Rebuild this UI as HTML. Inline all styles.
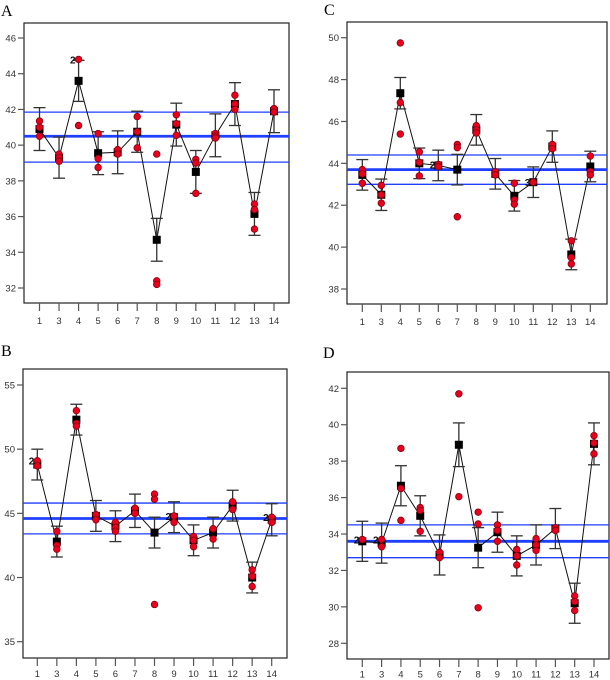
<!DOCTYPE html>
<html><head><meta charset="utf-8"><style>
html,body{margin:0;padding:0;background:#fff;}
svg{display:block;font-family:"Liberation Sans",sans-serif;}
</style></head><body>
<svg id="fig" width="610" height="680" viewBox="0 0 610 680"></svg>
<script>
const categories = ["1","3","4","5","6","7","8","9","10","11","12","13","14"];

const meansA = [40.9,39.3,43.6,39.55,39.6,40.75,34.7,41.15,38.5,40.55,42.3,36.15,41.9];
const errA = [1.2,1.15,1.15,1.2,1.2,1.15,1.2,1.2,1.2,1.2,1.2,1.2,1.2];
const pointsA = [[41.35,41.0,40.5],[39.5,39.3,39.1],[44.8,41.1],[40.65,39.25,38.75],[39.75,39.5],[41.6,40.75,39.85],[39.5,32.4,32.2],[41.7,41.2,40.55],[39.2,39.0,37.3],[40.65,40.5,40.4],[42.8,42.3,42.0],[36.7,36.4,35.3],[42.05,41.85]];
const refA = [41.85,40.5,39.05];
const ticksA = [32,34,36,38,40,42,44,46];
const countsA = [null,null,"2",null,null,null,null,null,null,null,null,null,null];

const meansC = [43.45,42.5,47.35,44.0,43.9,43.7,45.6,43.5,42.45,43.1,44.8,39.65,43.85];
const errC = [0.73,0.75,0.75,0.73,0.73,0.73,0.73,0.73,0.73,0.73,0.75,0.73,0.73];
const pointsC = [[43.7,43.5,43.05],[42.95,42.5,42.1],[49.75,46.9,45.4],[44.55,44.05,43.4],[43.95,43.85],[44.9,44.75,41.45],[45.8,45.6,45.45],[43.6,43.45],[43.05,42.25,42.05],[43.1],[44.9,44.7],[40.3,39.5,39.2],[44.35,43.6,43.45]];
const refC = [44.4,43.7,43.0];
const ticksC = [38,40,42,44,46,48,50];
const countsC = [null,null,null,null,"2",null,null,null,null,"3",null,null,null];

const meansB = [48.8,42.8,52.3,44.8,44.0,45.2,43.5,44.7,42.9,43.5,45.6,40.0,44.5];
const errB = [1.2,1.2,1.2,1.2,1.2,1.3,1.2,1.2,1.2,1.2,1.2,1.2,1.25];
const pointsB = [[49.1,48.7],[43.6,42.5,42.2],[53.0,52.0,51.8],[44.9,44.5],[44.3,43.9,43.6],[45.4,45.0],[46.5,46.1,37.9],[44.8,44.3],[43.2,42.9,42.4],[43.8,43.0],[45.9,45.3],[40.6,40.1,39.3],[44.7,44.3]];
const refB = [45.8,44.6,43.4];
const ticksB = [35,40,45,50,55];
const countsB = ["2",null,null,null,null,null,null,"2",null,null,null,null,"2"];

const meansD = [33.6,33.5,36.65,35.0,32.85,38.9,33.25,34.1,32.8,33.4,34.3,30.2,38.95];
const errD = [1.1,1.1,1.1,1.1,1.1,1.2,1.1,1.1,1.1,1.1,1.1,1.1,1.15];
const pointsD = [[33.7],[33.7,33.3],[38.7,36.5,34.75],[35.45,35.3,34.15],[33.0,32.7],[41.7,36.05],[35.2,34.55,29.95],[34.5,34.2,33.6],[33.15,32.8,32.3],[33.75,33.4,33.1],[34.35,34.2],[30.6,30.3,29.8],[39.4,39.0,38.4]];
const refD = [34.5,33.6,32.7];
const ticksD = [28,30,32,34,36,38,40,42];
const countsD = ["2","2",null,null,null,null,null,null,null,null,null,null,null];

const NS="http://www.w3.org/2000/svg";
const svg=document.getElementById('fig');
function mk(tag,attrs,parent){const e=document.createElementNS(NS,tag);for(const k in attrs)e.setAttribute(k,attrs[k]);(parent||svg).appendChild(e);return e;}

function panel(o){
  const g=mk('g',{});
  
  
  const y=v=>o.y0+(v-o.v0)*(o.y1-o.y0)/(o.v1-o.v0);
  const x=i=>o.x0+i*(o.x1-o.x0)/(categories.length-1);
  const t=mk('text',{x:o.lx,y:o.ly,'font-family':'"Liberation Serif",serif','font-size':16,fill:'#000'},g);
  t.textContent=o.letter;
  
  
  const box=mk('rect',{x:o.bl,y:o.bt,width:o.br-o.bl,height:o.bb-o.bt,fill:'none',stroke:'#222','stroke-width':1.2},g);
  
  
  o.ticks.forEach(v=>{
    mk('line',{x1:o.bl-6,x2:o.bl,y1:y(v),y2:y(v),stroke:'#555','stroke-width':1.2},g);
    const tl=mk('text',{x:o.bl-8,y:y(v)+3.5,'font-size':9.5,'text-anchor':'end',fill:'#333'},g);
    tl.textContent=v;
    
    
  });
  categories.forEach((c,i)=>{
    mk('line',{x1:x(i),x2:x(i),y1:o.bb,y2:o.bb+8,stroke:'#555','stroke-width':1.2},g);
    const tl=mk('text',{x:x(i),y:o.bb+o.tly,'font-size':9.5,'text-anchor':'middle',fill:'#333'},g);
    tl.textContent=c;
    
    
  });
  o.ref.forEach((v,k)=>{
    const l=mk('line',{x1:o.bl,x2:o.br,y1:y(v),y2:y(v),stroke:'#1f3fff','stroke-width':k==1?2.8:1.3},g);
    
    
  });
  const pl=mk('polyline',{points:o.means.map((m,i)=>x(i)+','+y(m)).join(' '),fill:'none',stroke:'#111','stroke-width':1},g);
  
  
  o.means.forEach((m,i)=>{
    const hi=y(m+o.err[i]),lo=y(m-o.err[i]),xx=x(i);
    const eb=mk('g',{},g);
    
    
    mk('line',{x1:xx,x2:xx,y1:hi,y2:lo,stroke:'#333','stroke-width':1.3},eb);
    mk('line',{x1:xx-6,x2:xx+6,y1:hi,y2:hi,stroke:'#333','stroke-width':1.3},eb);
    mk('line',{x1:xx-6,x2:xx+6,y1:lo,y2:lo,stroke:'#333','stroke-width':1.3},eb);
  });
  o.means.forEach((m,i)=>{
    const s=mk('rect',{x:x(i)-4,y:y(m)-4,width:8,height:8,fill:'#000'},g);
    
    
  });
  o.points.forEach((arr,i)=>arr.forEach(v=>{
    const c=mk('circle',{cx:x(i),cy:y(v),r:3.3,fill:'#e8001c',stroke:'#8a0010','stroke-width':0.8},g);
    
    
  }));
  o.counts.forEach((n,i)=>{
    if(!n)return;
    const v=o.points[i][0];
    const ct=mk('text',{x:x(i)-3,y:y(v)+4,'font-size':10,'font-weight':'bold','text-anchor':'end',fill:'#111'},g);
    ct.textContent=n;
    
    
  });
}

panel({letter:'A',lx:1,ly:16,bl:24,bt:23,br:289,bb:303,x0:39.5,x1:274,v0:46,y0:38,v1:32,y1:288,tly:21,
  means:meansA,err:errA,points:pointsA,ref:refA,ticks:ticksA,counts:countsA});
panel({letter:'C',lx:324,ly:15,bl:347,bt:22,br:607,bb:304,x0:362.3,x1:590.3,v0:50,y0:37.7,v1:38,y1:289,tly:21,
  means:meansC,err:errC,points:pointsC,ref:refC,ticks:ticksC,counts:countsC});
panel({letter:'B',lx:1,ly:356,bl:23,bt:369,br:287,bb:658,x0:37.3,x1:271.7,v0:55,y0:385,v1:35,y1:641.7,tly:19,
  means:meansB,err:errB,points:pointsB,ref:refB,ticks:ticksB,counts:countsB});
panel({letter:'D',lx:323,ly:358,bl:347,bt:372,br:609,bb:659,x0:362.3,x1:594,v0:42,y0:388.3,v1:28,y1:643.3,tly:18.5,
  means:meansD,err:errD,points:pointsD,ref:refD,ticks:ticksD,counts:countsD});
</script>
</body></html>
